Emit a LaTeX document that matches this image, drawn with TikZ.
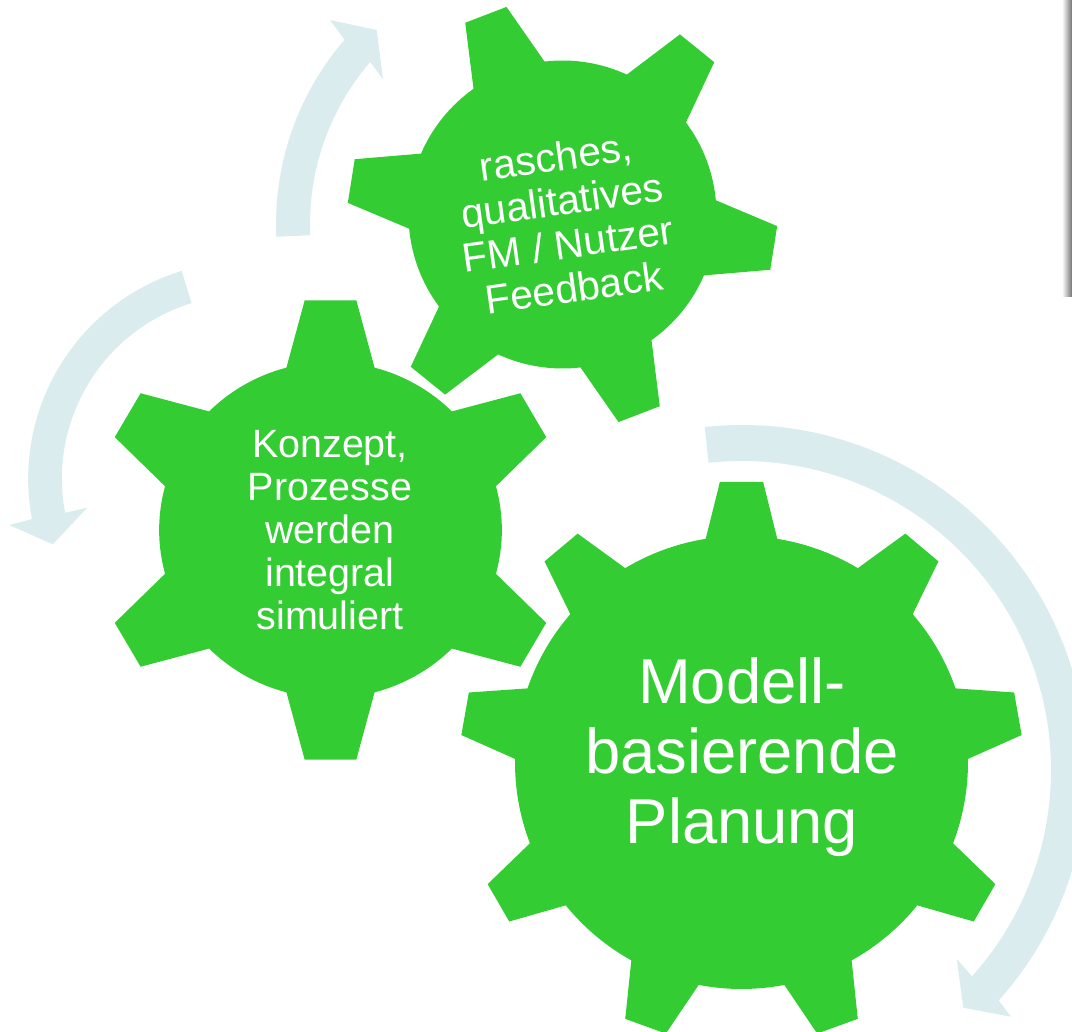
\documentclass[tikz,border=0pt]{standalone}
\usepackage{fontspec}
\setmainfont{Liberation Sans}
\usepackage{xcolor}
\definecolor{geargreen}{HTML}{33CC33}
\definecolor{cyclepale}{HTML}{DAECEE}
\newcommand{\gearwheel}[6]{%
  \fill[gearfill] (-#4:#2)
    \foreach \a in {#1} {
      -- ({\a-#4}:#2) -- ({\a-#5}:#3) -- ({\a+#5}:#3) -- ({\a+#4}:#2)
      arc[start angle=\a+#4, delta angle=#6, radius=#2]
    } -- cycle;
}
\newcommand{\cyclearrow}[8]{%
  \fill[cyclefill] ([shift={(#4:#3)}]#1) arc[start angle=#4, end angle=#5, radius=#3]
    -- (#6) -- (#7) -- (#8)
    -- ([shift={(#5:#2)}]#1) arc[start angle=#5, end angle=#4, radius=#2] -- cycle;
}
\tikzset{
  gearfill/.style={fill=geargreen},
  cyclefill/.style={fill=cyclepale},
  gearlabel/.style={text=white, align=center, inner sep=0pt},
}

\begin{document}
\begin{tikzpicture}[x=0.75pt, y=0.75pt]
  \clip (0,0) rectangle (1072,1032);
  \shade[left color=white, right color=black!55] (1062,735) rectangle (1072,1032);

  \cyclearrow{742,262}{309}{345}{96.2}{-41.9}{1011,15.3}{963.3,24.3}{956.7,73}
  \cyclearrow{558,808}{248}{282}{182.6}{139.2}{330,1012}{376.7,1002}{383,952.7}
  \cyclearrow{245.6,553.3}{183.7}{217.4}{107.1}{190.7}{9.3,507}{52.7,487.7}{87.3,524.3}

  \begin{scope}[shift={(330.5,502)}, xscale=1.02]
    \gearwheel{30,90,...,330}{168}{231}{14.9}{6.3}{30.2}
  \end{scope}
  \begin{scope}[shift={(562.5,817.5)}, rotate=-9]
    \gearwheel{0,60,...,300}{154}{215}{14.3}{5.9}{31.4}
  \end{scope}
  \begin{scope}[shift={(741.5,269.5)}]
    \gearwheel{10,50,...,370}{226.5}{281.5}{9.1}{4.4}{21.8}
  \end{scope}

  \node[gearlabel, font=\fontsize{29.6}{32.2}\selectfont] (konzept) at (330,502) {Konzept,\\Prozesse\\werden\\integral\\simuliert};
  \node[gearlabel, font=\fontsize{30.5}{33}\selectfont, rotate=8] (feedback) at (565,810) {rasches,\\qualitatives\\FM / Nutzer\\Feedback};
  \node[gearlabel, font=\fontsize{47.5}{52.5}\selectfont] (planung) at (742,275) {Modell-\\basierende\\Planung};
\end{tikzpicture}
\end{document}
